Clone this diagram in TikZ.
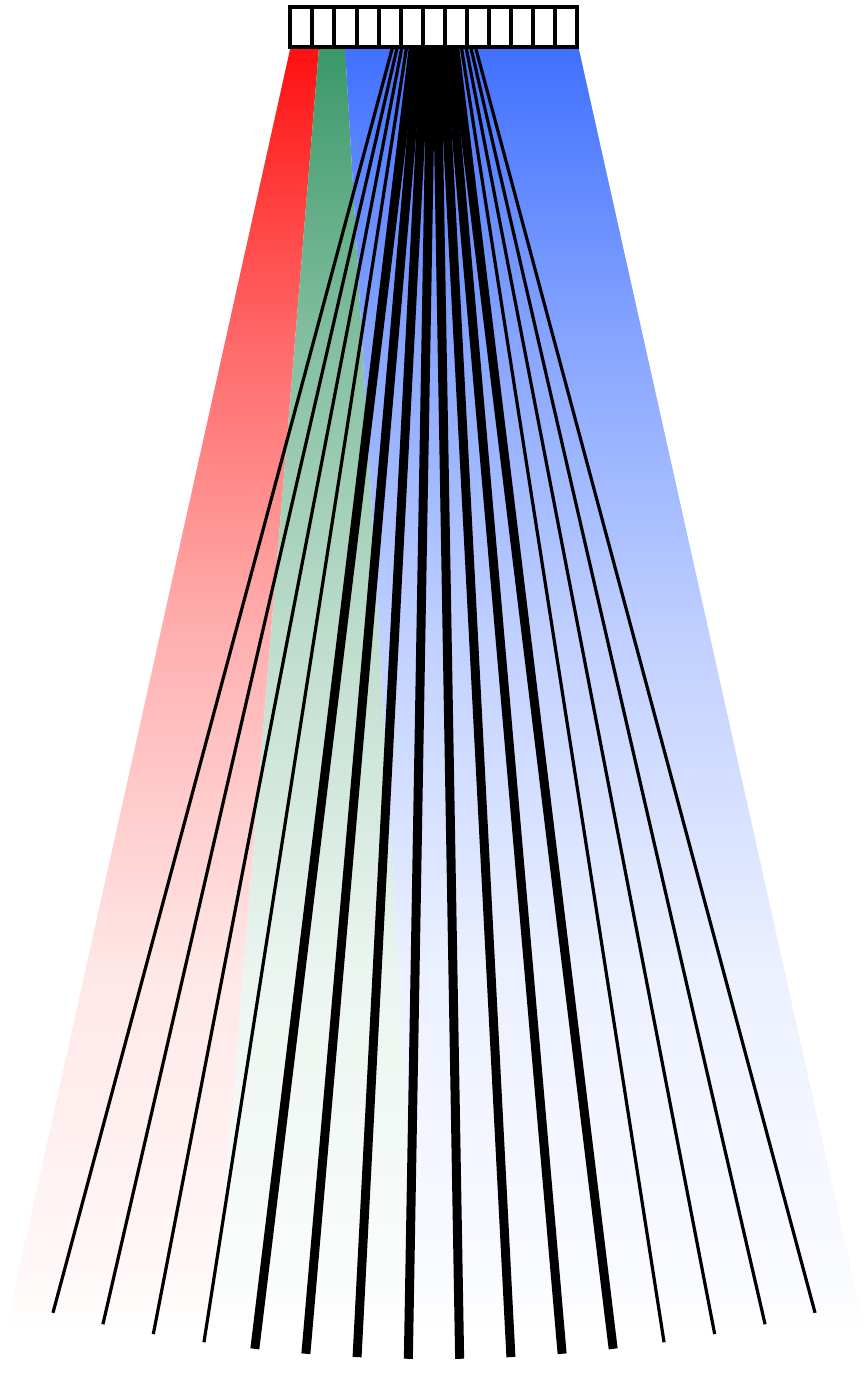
\documentclass[tikz,border=0pt]{standalone}
\usepackage{xcolor}
\usepackage{tikz}
\usetikzlibrary{positioning}

\definecolor{bandred}{RGB}{255,16,16}
\definecolor{bandgreen}{RGB}{58,152,104}
\definecolor{bandblue}{RGB}{64,112,255}

% vertical fade from full colour (top) to white (bottom)
\newcommand{\fadeband}[2]{%
  \pgfdeclareverticalshading{#1}{100bp}{color(0bp)=(white); color(25bp)=(white);
    color(27bp)=(#2!3); color(39bp)=(#2!10); color(52bp)=(#2!33);
    color(63.6bp)=(#2!63); color(75bp)=(#2); color(100bp)=(#2)}}
\fadeband{redfade}{bandred}
\fadeband{greenfade}{bandgreen}
\fadeband{bluefade}{bandblue}

\begin{document}
\begin{tikzpicture}[
    x=0.5pt, y=-0.5pt,
    cell/.style={rectangle, draw, fill=white, line width=2pt, minimum width=11.04pt, minimum height=20.3pt, inner sep=0pt, outer sep=0pt},
    thinray/.style={line width=1.6pt},
    thickray/.style={line width=4.5pt}
]
\useasboundingbox (0,0) rectangle (866,1388);

% Colour bands
\shade[shading=redfade] (290.5,47.3) -- (319,47.3) -- (214,1330) -- (5.5,1330) -- cycle;
\shade[shading=greenfade] (319,47.3) -- (345,47.3) -- (419.3,1330) -- (214,1330) -- cycle;
\shade[shading=bluefade] (345,47.3) -- (578.5,47.3) -- (864.7,1330) -- (419.3,1330) -- cycle;

% Rays
\coordinate (hub) at (434,-237);
\foreach \k in {1,...,16}{
  \pgfmathsetmacro\ang{90-(\k-8.5)*1.842}
  \coordinate (foot\k) at ([shift={(hub)}] \ang:1596);
}
\foreach \k/\dx in {1/-41.5, 2/-36.8, 3/-32.1, 4/-27.4, 13/27.4, 14/32.1, 15/36.8, 16/41.5}{
  \coordinate (top\k) at ({434+\dx},47.3);
  \draw[thinray] (top\k) -- (foot\k);
}
\foreach \k in {5,...,12}{
  \coordinate (top\k) at ({434+(\k-8.5)*5.9},47.3);
  \draw[thickray] (top\k) -- (foot\k);
}

% Cell row
\node[cell] (cell1) at (301.34,27) {};
\foreach \i [count=\j] in {2,...,13} \node[cell, right=0pt of cell\j] (cell\i) {};

\end{tikzpicture}
\end{document}
